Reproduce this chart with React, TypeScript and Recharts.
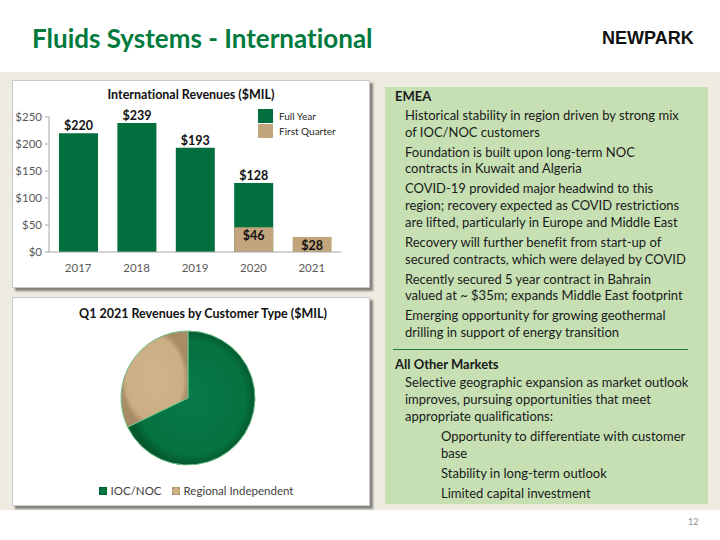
import React from 'react';
import { BarChart, Bar, XAxis, YAxis, LabelList, Legend, PieChart, Pie, Cell } from 'recharts';

// International revenues ($MIL)
const years = ['2017', '2018', '2019', '2020', '2021'];
const fullYear = [220, 239, 193, 128, null];
const firstQuarter = [null, null, null, 46, 28];
const yTicks = [0, 50, 100, 150, 200, 250];
const seriesNames = ['Full Year', 'First Quarter'];

// Q1 2021 revenues by customer type ($MIL)
const customerTypes = ['IOC/NOC', 'Regional Independent'];
const customerRevenue = [19, 9];

const GREEN = '#026F3F';
const TAN = '#C3A57D';
const FONT = 'Lato, "Open Sans", sans-serif';

const barData = years.map((year, i) => ({
    year,
    full: fullYear[i],
    q1: firstQuarter[i],
}));

const pieData = customerTypes.map((name, i) => ({ name, value: customerRevenue[i] }));

const money = (v: any) => (v === null || v === undefined ? '' : `$${v}`);

const panelStyle: React.CSSProperties = {
    position: 'absolute',
    background: '#fff',
    border: '1px solid #c9c9c9',
    boxShadow: '3px 3px 2px rgba(0,0,0,0.45)',
};

const BarLegend = () => (
    <div style={{ fontFamily: FONT }}>
        {seriesNames.map((name, i) => (
            <div key={name} style={{ display: 'flex', alignItems: 'center', height: 14.5 }}>
                <span style={{ width: 15, height: 14, background: i === 0 ? GREEN : TAN, display: 'inline-block' }} />
                <span style={{ marginLeft: 6, fontSize: 10, color: '#262626' }}>{name}</span>
            </div>
        ))}
    </div>
);

const emea = [
    ['Historical stability in region driven by strong mix', 'of IOC/NOC customers'],
    ['Foundation is built upon long-term NOC', 'contracts in Kuwait and Algeria'],
    ['COVID-19 provided major headwind to this', 'region; recovery expected as COVID restrictions', 'are lifted, particularly in Europe and Middle East'],
    ['Recovery will further benefit from start-up of', 'secured contracts, which were delayed by COVID'],
    ['Recently secured 5 year contract in Bahrain', 'valued at ~ $35m; expands Middle East footprint'],
    ['Emerging opportunity for growing geothermal', 'drilling in support of energy transition'],
];

const otherMarkets = ['Selective geographic expansion as market outlook', 'improves, pursuing opportunities that meet', 'appropriate qualifications:'];
const otherSub = [['Opportunity to differentiate with customer', 'base'], ['Stability in long-term outlook'], ['Limited capital investment']];

const Para = ({ lines, left, top }: { lines: string[]; left: number; top: number }) => (
    <div style={{ marginLeft: left, marginTop: top }}>
        {lines.map((l) => (
            <div key={l}>{l}</div>
        ))}
    </div>
);

export default function App() {
    return (
        <div style={{ position: 'absolute', left: 0, top: 0, width: 720, height: 540, background: '#fff', fontFamily: FONT, fontVariantLigatures: 'none', overflow: 'hidden' }}>
            {/* header */}
            <div style={{ position: 'absolute', left: 32, top: 20, fontSize: 26, fontWeight: 700, color: '#007A3D', lineHeight: '36px', whiteSpace: 'nowrap' }}>
                Fluids Systems - International
            </div>
            <div style={{ position: 'absolute', left: 602, top: 27, fontSize: 18, fontWeight: 700, color: '#111', fontFamily: '"Liberation Sans", Arial, sans-serif', lineHeight: '22px' }}>
                NEWPARK
            </div>
            <div style={{ position: 'absolute', left: 0, top: 72, width: 720, height: 438, background: '#EEEBE1' }} />

            {/* bar chart panel */}
            <div style={{ ...panelStyle, left: 12, top: 80, width: 356, height: 206 }}>
                <div style={{ position: 'absolute', left: 0, width: 356, top: 6, textAlign: 'center', fontSize: 12.5, fontWeight: 700, color: '#111', lineHeight: '16px' }}>
                    International Revenues ($MIL)
                </div>
                <BarChart
                    width={356}
                    height={206}
                    data={barData}
                    margin={{ top: 36, right: 28, bottom: 5, left: 0 }}
                    barGap={-39}
                    style={{ fontFamily: FONT }}
                >
                    <XAxis
                        dataKey="year"
                        axisLine={{ stroke: '#a6a6a6' }}
                        tickLine={false}
                        tickMargin={6}
                        height={30}
                        tick={{ fill: '#595959', fontSize: 11.5 }}
                    />
                    <YAxis
                        domain={[0, 250]}
                        ticks={yTicks}
                        width={36}
                        tickFormatter={money}
                        axisLine={{ stroke: '#a6a6a6' }}
                        tickLine={{ stroke: '#a6a6a6' }}
                        tickSize={4}
                        tickMargin={3}
                        tick={{ fill: '#595959', fontSize: 11.5 }}
                    />
                    <Legend
                        layout="vertical"
                        align="center"
                        verticalAlign="middle"
                        content={<BarLegend />}
                        wrapperStyle={{ left: 245, top: 28, width: 100 }}
                    />
                    <Bar dataKey="full" name={seriesNames[0]} fill={GREEN} barSize={39} isAnimationActive={false}>
                        <LabelList dataKey="full" position="top" offset={3} formatter={money} fill="#111" fontSize={12.5} fontWeight={700} />
                    </Bar>
                    <Bar dataKey="q1" name={seriesNames[1]} fill={TAN} barSize={39} isAnimationActive={false}>
                        <LabelList dataKey="q1" position="insideTop" offset={4} formatter={money} fill="#111" fontSize={12.5} fontWeight={700} />
                    </Bar>
                </BarChart>
            </div>

            {/* pie chart panel */}
            <div style={{ ...panelStyle, left: 12, top: 297, width: 356, height: 207 }}>
                <div style={{ position: 'absolute', left: 0, width: 380, top: 8, textAlign: 'center', fontSize: 12.5, fontWeight: 700, color: '#111', lineHeight: '16px' }}>
                    Q1 2021 Revenues by Customer Type ($MIL)
                </div>
                <PieChart width={356} height={207} margin={{ top: 0, right: 0, bottom: 7, left: 0 }} style={{ fontFamily: FONT }}>
                    <defs>
                        <radialGradient id="gGreen" cx="50%" cy="50%" r="50%">
                            <stop offset="0%" stopColor="#08794A" />
                            <stop offset="85%" stopColor="#05723F" />
                            <stop offset="100%" stopColor="#04592F" />
                        </radialGradient>
                        <radialGradient id="gTan" cx="50%" cy="50%" r="50%">
                            <stop offset="0%" stopColor="#D2B48A" />
                            <stop offset="85%" stopColor="#CCAE84" />
                            <stop offset="100%" stopColor="#A88C66" />
                        </radialGradient>
                    </defs>
                    <Pie
                        data={pieData}
                        dataKey="value"
                        nameKey="name"
                        cx={175}
                        cy={100}
                        outerRadius={67}
                        startAngle={90}
                        endAngle={-270}
                        stroke="#6fbf8a"
                        strokeWidth={1}
                        isAnimationActive={false}
                    >
                        {pieData.map((_d, i) => (
                            <Cell key={`cell-${i}`} fill={i === 0 ? 'url(#gGreen)' : 'url(#gTan)'} />
                        ))}
                    </Pie>
                    <Legend
                        verticalAlign="bottom"
                        align="center"
                        iconType="square"
                        iconSize={8}
                        payload={pieData.map((d, i) => ({ value: d.name, type: 'square', color: i === 0 ? GREEN : TAN }))}
                        formatter={(v: any) => <span style={{ color: '#404040', fontSize: 11.5 }}>{v}</span>}
                        wrapperStyle={{ left: 10 }}
                    />
                </PieChart>
            </div>

            {/* commentary panel */}
            <div style={{ position: 'absolute', left: 385, top: 87, width: 323, height: 417, background: '#C6E0B4', fontSize: 13, lineHeight: '16.7px', color: '#1a1a1a', whiteSpace: 'nowrap' }}>
                <div style={{ marginLeft: 10, marginTop: 1, fontWeight: 700 }}>EMEA</div>
                {emea.map((p, i) => (
                    <Para key={i} lines={p} left={20} top={i === 0 ? 2.3 : 3.3} />
                ))}
                <div style={{ margin: '8px 20px 0 8px', borderTop: '1px solid #1E7A44' }} />
                <div style={{ marginLeft: 10, marginTop: 6, fontWeight: 700 }}>All Other Markets</div>
                <Para lines={otherMarkets} left={20} top={2} />
                {otherSub.map((p, i) => (
                    <Para key={i} lines={p} left={56} top={i === 0 ? 4 : 3} />
                ))}
            </div>

            <div style={{ position: 'absolute', left: 688, top: 516, fontSize: 9, color: '#8c8c8c' }}>12</div>
        </div>
    );
}
